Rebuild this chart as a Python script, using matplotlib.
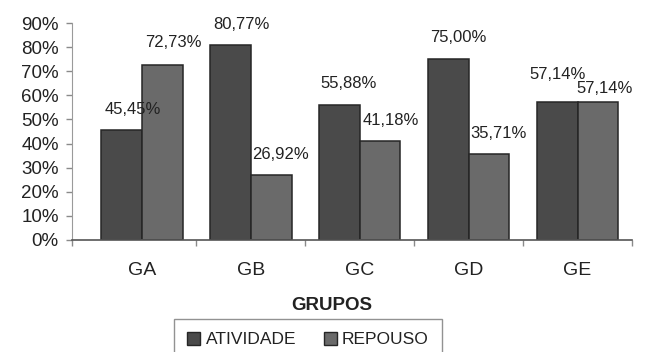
import matplotlib
matplotlib.use("Agg")
import matplotlib.pyplot as plt
from matplotlib.patches import Patch
import numpy as np

plt.rcParams["font.family"] = ["Liberation Sans", "DejaVu Sans"]

grupos = ["GA", "GB", "GC", "GD", "GE"]
atividade = [45.45, 80.77, 55.88, 75.00, 57.14]
repouso = [72.73, 26.92, 41.18, 35.71, 57.14]
yticks = [0, 10, 20, 30, 40, 50, 60, 70, 80, 90]

DARK = "#4a4a4a"
LIGHT = "#6a6a6a"
EDGE = "#262626"
W = 0.375

fig = plt.figure(figsize=(6.71, 3.52), dpi=100)
ax = fig.add_axes([72 / 671, 112 / 352, 560 / 671, 217 / 352])

x = np.arange(len(grupos))
b1 = ax.bar(x - W / 2, atividade, W, color=DARK, edgecolor=EDGE, lw=1.1, zorder=3)
b2 = ax.bar(x + W / 2, repouso, W, color=LIGHT, edgecolor=EDGE, lw=1.1, zorder=3)

def fmt(v):
    return f"{v:.2f}%".replace(".", ",")

# label offsets in points (dx, dy); last pair nudged apart so they don't overlap
off1 = [(8, 9.5), (8, 9.5), (7, 10.5), (7, 10.5), (0, 14.5)]
off2 = [(8, 10.5), (7, 9.5), (8, 9.5), (6.5, 9), (4.5, 4.5)]
for bars, vals, offs in ((b1, atividade, off1), (b2, repouso, off2)):
    for r, v, (dx, dy) in zip(bars, vals, offs):
        ax.annotate(fmt(v), (r.get_x() + r.get_width() / 2, v),
                    xytext=(dx, dy), textcoords="offset points",
                    ha="center", va="bottom", fontsize=12, color="#222222")

ax.set_xlim(-0.64, 4.5)
ax.set_ylim(0, 90)
ax.set_yticks(yticks)
ax.set_yticklabels([f"{t}%" for t in yticks], fontsize=13.5, color="#222222")
ax.tick_params(axis="y", length=4, width=1, color="#8a8a8a", pad=5.5)

ax.set_xticks(x)
ax.set_xticklabels(grupos, fontsize=14, color="#222222")
ax.tick_params(axis="x", which="major", length=0, pad=16)
ax.set_xticks([-0.64, 0.5, 1.5, 2.5, 3.5, 4.5], minor=True)
ax.tick_params(axis="x", which="minor", length=4, width=1, color="#8a8a8a")

for s in ("top", "right"):
    ax.spines[s].set_visible(False)
ax.spines["left"].set_color("#9a9a9a")
ax.spines["bottom"].set_color("#555555")
ax.spines["bottom"].set_linewidth(1.2)
ax.spines["bottom"].set_zorder(4)

fig.text(332 / 671, 1 - 305 / 352, "GRUPOS", ha="center", va="center",
         fontsize=13.5, fontweight="bold", color="#222222")

handles = [Patch(facecolor=DARK, edgecolor=EDGE, label="ATIVIDADE"),
           Patch(facecolor=LIGHT, edgecolor=EDGE, label="REPOUSO")]
leg = fig.legend(handles=handles, loc="upper center", ncol=2,
                 bbox_to_anchor=(308 / 671, 1 - 319 / 352),
                 fontsize=12.5, frameon=True, fancybox=False,
                 handlelength=0.75, handleheight=0.75, handletextpad=0.3,
                 columnspacing=1.6, borderpad=0.75, borderaxespad=0)
leg.get_frame().set_edgecolor("#777777")
leg.get_frame().set_linewidth(1.0)
for t in leg.get_texts():
    t.set_color("#222222")

fig.savefig("out.png", dpi=100)
